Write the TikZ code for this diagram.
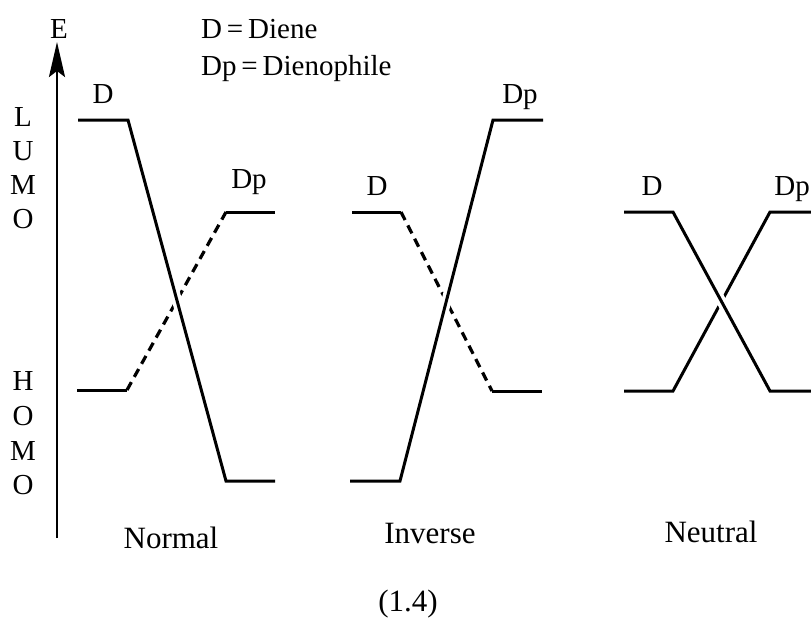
\documentclass[tikz,border=0pt]{standalone}
\usepackage{fontspec}
\setmainfont{Liberation Serif}
\usetikzlibrary{arrows.meta}
\begin{document}
\begin{tikzpicture}[x=1pt,y=-1pt,
  lev/.style={line width=3pt, line join=miter},
  dsh/.style={line width=3.2pt, dash pattern=on 9pt off 6pt},
  over/.style={preaction={draw=white, line width=10pt}},
  txt/.style={font=\fontsize{29}{32}\selectfont, inner sep=0pt, anchor=base},
  big/.style={font=\fontsize{31}{34}\selectfont, inner sep=0pt, anchor=base},
  axl/.style={font=\fontsize{29}{32}\selectfont, inner sep=0pt, anchor=base}]
\useasboundingbox (0,0) rectangle (811,619);
% axis
\coordinate (ax0) at (57,538);
\coordinate (ax1) at (57,42);
\draw[line width=2.6pt, -{Stealth[length=35pt,width=16pt,inset=6pt]}] (ax0) -- (ax1);
\node[txt] (E) at (59,38) {E};
\node[txt, anchor=base west] (k1) at (201,38) {D\,=\,Diene};
\node[txt, anchor=base west] (k2) at (201,75) {Dp\,=\,Dienophile};
% LUMO / HOMO letters
\node[axl] (l1) at (23,126) {L};
\node[axl] (l2) at (23,160) {U};
\node[axl] (l3) at (23,194) {M};
\node[axl] (l4) at (23,228) {O};
\node[axl] (h1) at (23,390) {H};
\node[axl] (h2) at (23,425) {O};
\node[axl] (h3) at (23,460) {M};
\node[axl] (h4) at (23,494) {O};
% Normal
\coordinate (n1) at (78,120); \coordinate (n2) at (128,120);
\coordinate (n3) at (226,481); \coordinate (n4) at (275,481);
\coordinate (m1) at (77,390); \coordinate (m2) at (127,390);
\coordinate (m3) at (226,212); \coordinate (m4) at (275,212);
\draw[lev] (m1) -- (m2);
\draw[dsh] (m2) -- (m3);
\draw[lev] (m3) -- (m4);
\draw[lev, over] (n1) -- (n2) -- (n3) -- (n4);
\node[txt] (nD) at (103,103) {D};
\node[txt] (nDp) at (249,188) {Dp};
\node[big] (nlab) at (171,548) {Normal};
% Inverse
\coordinate (i1) at (352,212); \coordinate (i2) at (401,212);
\coordinate (i3) at (492,391); \coordinate (i4) at (542,391);
\coordinate (j1) at (350,481); \coordinate (j2) at (400,481);
\coordinate (j3) at (493,120); \coordinate (j4) at (543,120);
\draw[lev] (i1) -- (i2);
\draw[dsh] (i2) -- (i3);
\draw[lev] (i3) -- (i4);
\draw[lev, over] (j1) -- (j2) -- (j3) -- (j4);
\node[txt] (iD) at (377,195) {D};
\node[txt] (iDp) at (520,103) {Dp};
\node[big] (ilab) at (430,543) {Inverse};
\node[big] (eq) at (408,611) {(1.4)};
% Neutral
\coordinate (u1) at (624,391); \coordinate (u2) at (673,391);
\coordinate (u3) at (770,212); \coordinate (u4) at (815,212);
\coordinate (v1) at (624,212); \coordinate (v2) at (673,212);
\coordinate (v3) at (770,391); \coordinate (v4) at (815,391);
\draw[lev] (u1) -- (u2) -- (u3) -- (u4);
\draw[lev, over] (v1) -- (v2) -- (v3) -- (v4);
\node[txt] (uD) at (652,195) {D};
\node[txt, anchor=base east] (uDp) at (810,195) {Dp};
\node[big] (ulab) at (711,542) {Neutral};
\end{tikzpicture}
\end{document}
